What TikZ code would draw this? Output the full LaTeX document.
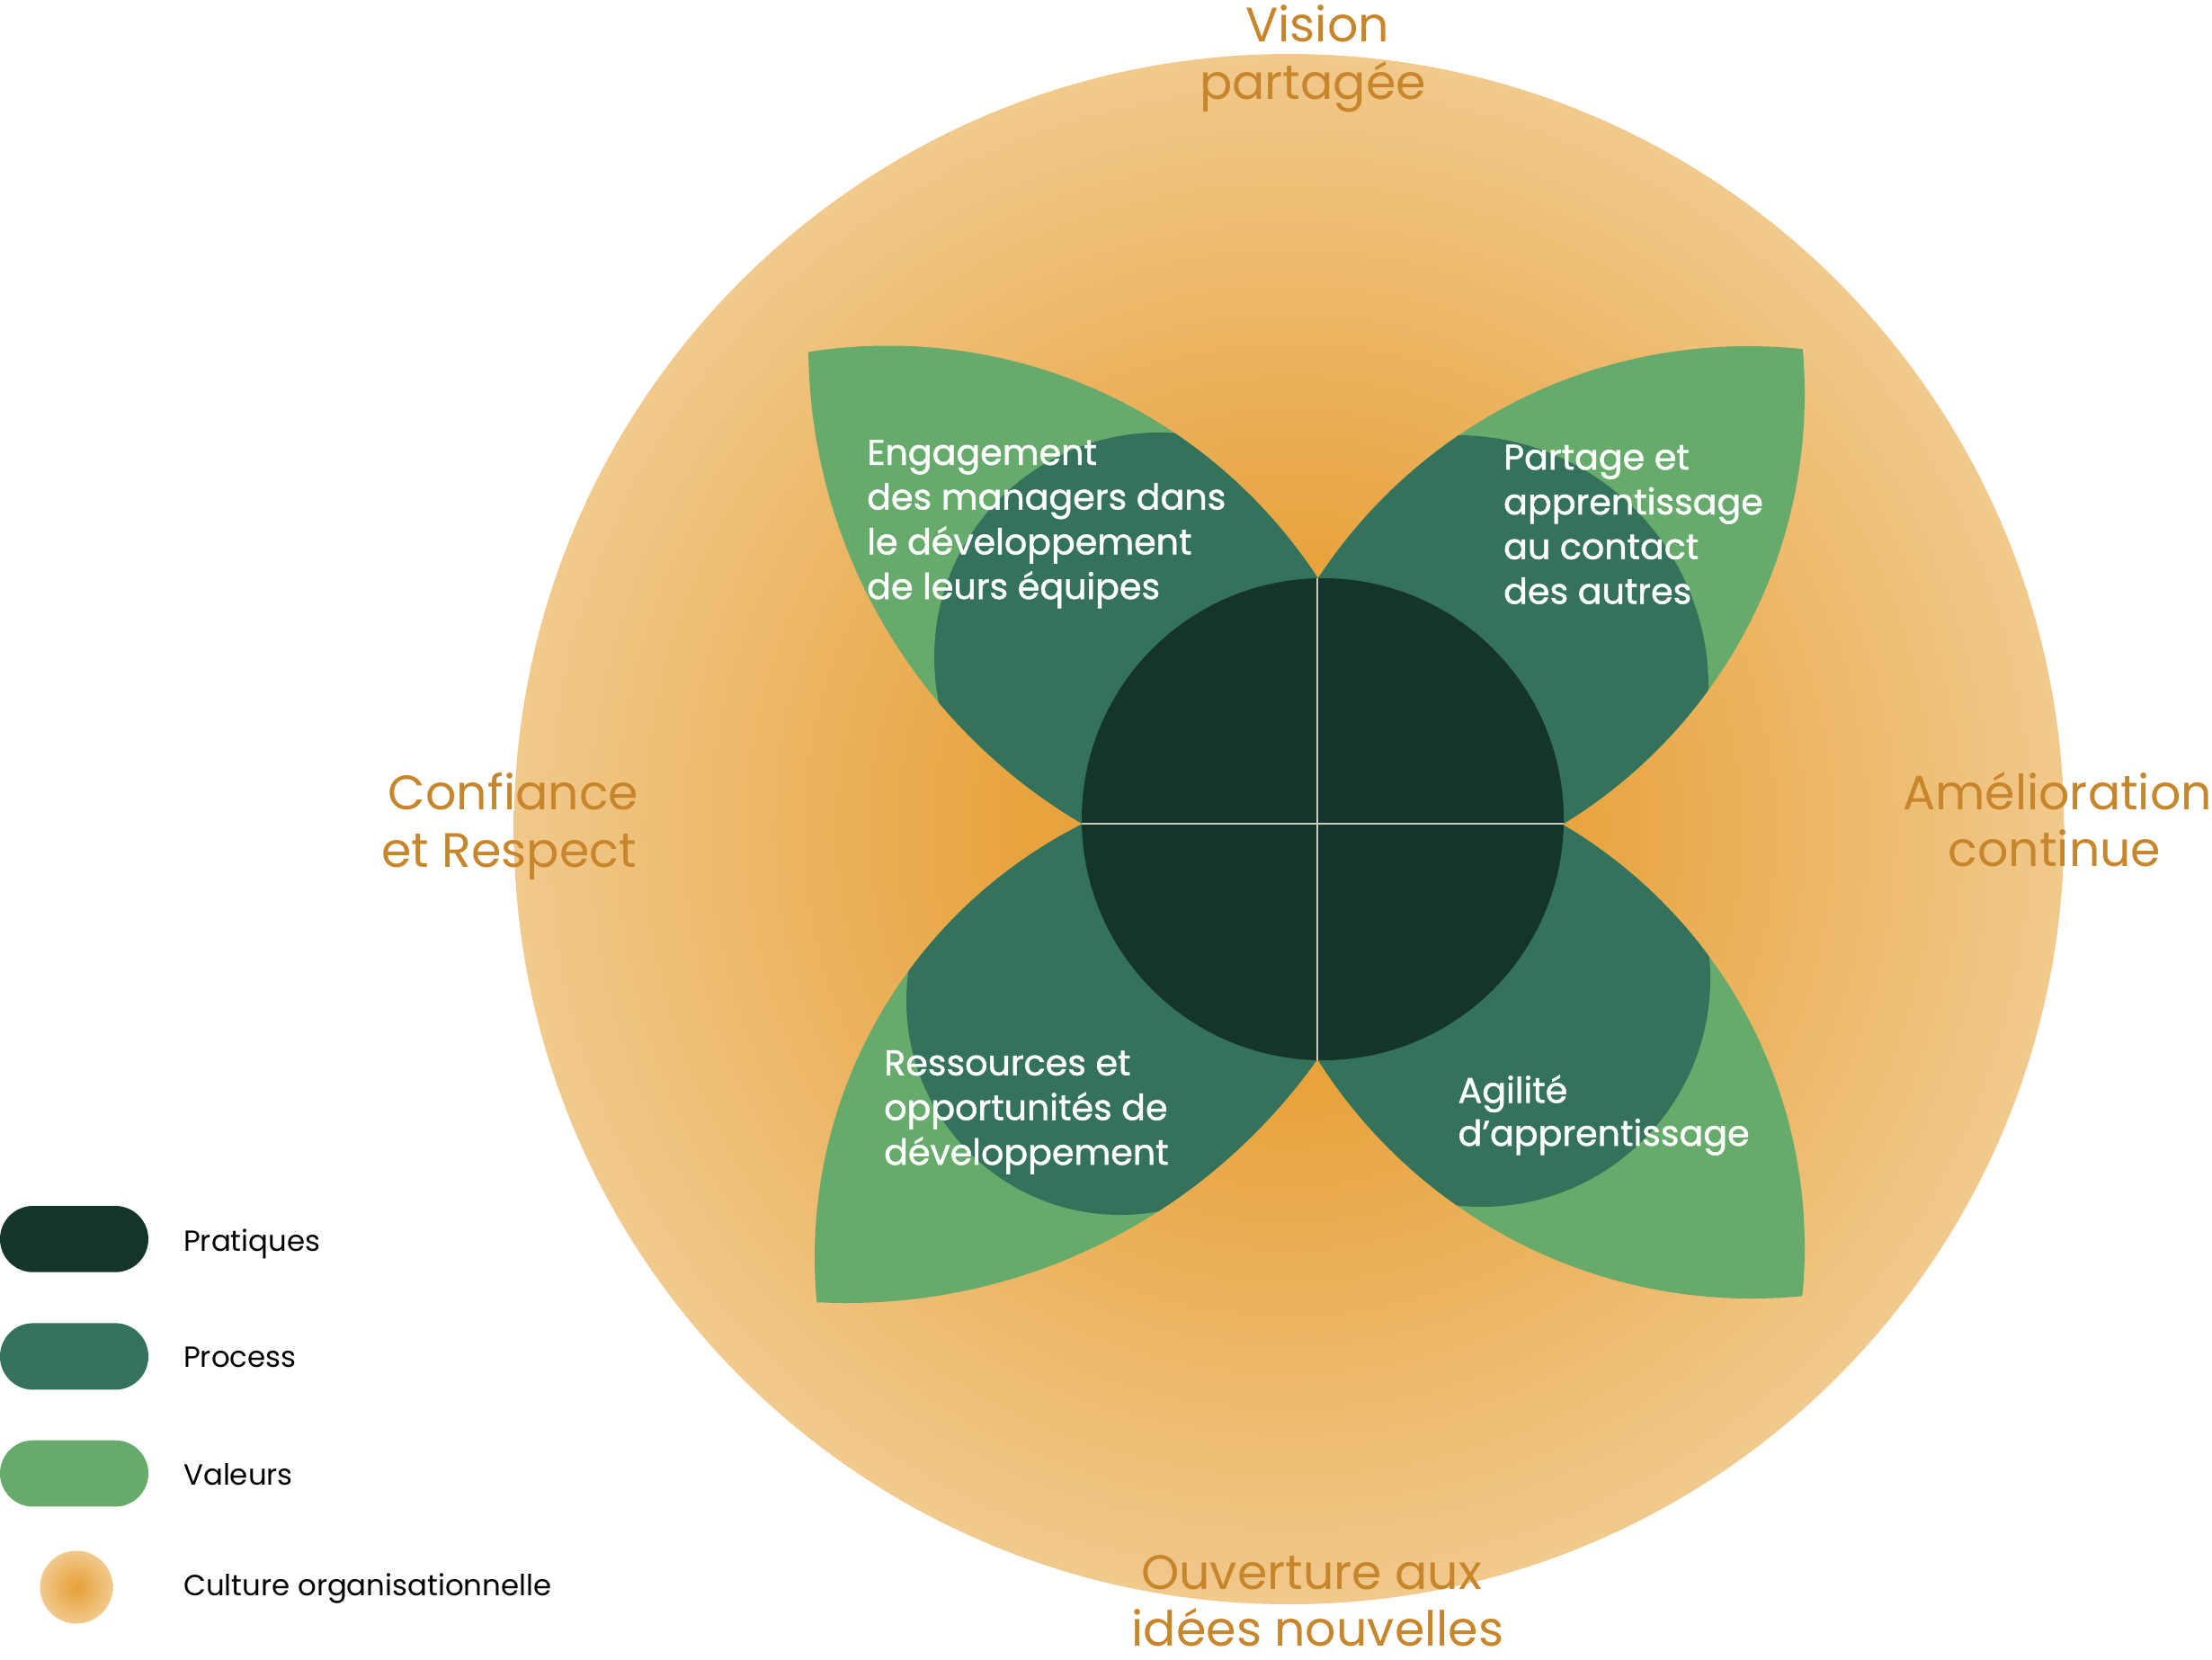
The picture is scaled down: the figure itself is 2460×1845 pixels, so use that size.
\documentclass[tikz,border=0pt]{standalone}
\usepackage{fontspec}
\setmainfont{Poppins}
\newfontfamily\petalfont{Poppins}[FakeBold=1.2]
\definecolor{pratiques}{HTML}{15342C}
\definecolor{process}{HTML}{34725C}
\definecolor{valeurs}{HTML}{66AB6C}
\definecolor{labelorange}{HTML}{C8862C}
\definecolor{culA}{HTML}{E7A038}
\definecolor{culB}{HTML}{E8A33E}
\definecolor{culC}{HTML}{F1C98C}
\definecolor{quarterline}{HTML}{C9CEC0}
\pgfdeclareradialshading{culture}{\pgfpoint{0bp}{0bp}}{color(0bp)=(culA); color(8.7bp)=(culB); color(25bp)=(culC); color(50bp)=(culC)}
\pgfdeclareradialshading{culturelegend}{\pgfpoint{0bp}{0bp}}{color(0bp)=(culA); color(25bp)=(culC); color(50bp)=(culC)}
\tikzset{
  outerlabel/.style={text=labelorange, font=\fontsize{53.8}{63}\selectfont, inner sep=0pt, anchor=base},
  petaltext/.style={text=white, font=\petalfont\fontsize{39.6}{50}\selectfont, inner sep=0pt, anchor=base west},
  legendtext/.style={text=black, font=\fontsize{32.4}{40}\selectfont, inner sep=0pt, anchor=base west},
  divider/.style={draw=quarterline, line width=1.6pt},
  pill/.style={rounded corners=36.8pt},
}
\begin{document}
\begin{tikzpicture}[x=1pt,y=-1pt]
\useasboundingbox (0,0) rectangle (2460,1845);
\fill[white] (0,0) rectangle (2460,1845);
% culture circle
\shade[shading=culture] (1433.5,922) circle[radius=862pt];
% upper-left petal
\begin{scope}
  \clip (988,955) circle[radius=570.5pt];
  \clip (1516,384) circle[radius=617pt];
  \fill[valeurs] (0,0) rectangle (2460,1845);
  \fill[process] (1289,731) circle[radius=250pt];
\end{scope}
% upper-right petal
\begin{scope}
  \clip (1944,957) circle[radius=572pt];
  \clip (1447,438) circle[radius=560pt];
  \fill[valeurs] (0,0) rectangle (2460,1845);
  \fill[process] (1620,764) circle[radius=280pt];
\end{scope}
% lower-right petal
\begin{scope}
  \clip (1948,873) circle[radius=571pt];
  \clip (1462,1387) circle[radius=545pt];
  \fill[valeurs] (0,0) rectangle (2460,1845);
  \fill[process] (1648,1088) circle[radius=254pt];
\end{scope}
% lower-left petal
\begin{scope}
  \clip (941,807) circle[radius=642pt];
  \clip (1446,1399) circle[radius=540pt];
  \fill[valeurs] (0,0) rectangle (2460,1845);
  \fill[process] (1246,1113) circle[radius=238pt];
\end{scope}
% pratiques core
\fill[pratiques] (1471,911) circle[radius=268pt];
\coordinate (hl) at (1203,916);
\coordinate (hr) at (1739,916);
\coordinate (vt) at (1465,643);
\coordinate (vb) at (1465,1178.5);
\draw[divider] (hl) -- (hr);
\draw[divider] (vt) -- (vb);
% outer labels
\node[outerlabel] (vis1) at (1465,46.7) {Vision};
\node[outerlabel] (vis2) at (1460,110) {partagée};
\node[outerlabel] (conf1) at (571,900) {Confiance};
\node[outerlabel] (conf2) at (566,964) {et Respect};
\node[outerlabel] (amel1) at (2288,900) {Amélioration};
\node[outerlabel] (amel2) at (2285,963) {continue};
\node[outerlabel] (ouv1) at (1458.5,1767) {Ouverture aux};
\node[outerlabel] (ouv2) at (1465.5,1830) {idées nouvelles};
% petal texts
\node[petaltext] (ul1) at (964,516.9) {Engagement};
\node[petaltext] (ul2) at (964,566.6) {des managers dans};
\node[petaltext] (ul3) at (964,616.4) {le développement};
\node[petaltext] (ul4) at (964,666.1) {de leurs équipes};
\node[petaltext] (ur1) at (1672,522.2) {Partage et};
\node[petaltext] (ur2) at (1672,572) {apprentissage};
\node[petaltext] (ur3) at (1672,621.7) {au contact};
\node[petaltext] (ur4) at (1672,671.4) {des autres};
\node[petaltext] (lr1) at (1621.4,1226.3) {Agilité};
\node[petaltext] (lr2) at (1621.4,1274.1) {d’apprentissage};
\node[petaltext] (ll1) at (983,1195.7) {Ressources et};
\node[petaltext] (ll2) at (983,1245.5) {opportunités de};
\node[petaltext] (ll3) at (983,1295.2) {développement};
% legend
\fill[pratiques, pill] (0,1341) rectangle (165,1414.7);
\fill[process, pill] (0,1471.4) rectangle (165,1545.4);
\fill[valeurs, pill] (0,1601.7) rectangle (165,1675.4);
\shade[shading=culturelegend] (85,1765) circle[radius=40.5pt];
\node[legendtext] (lg1) at (204,1391) {Pratiques};
\node[legendtext] (lg2) at (204,1520.7) {Process};
\node[legendtext] (lg3) at (204,1651) {Valeurs};
\node[legendtext] (lg4) at (204,1774.4) {Culture organisationnelle};
\end{tikzpicture}
\end{document}
